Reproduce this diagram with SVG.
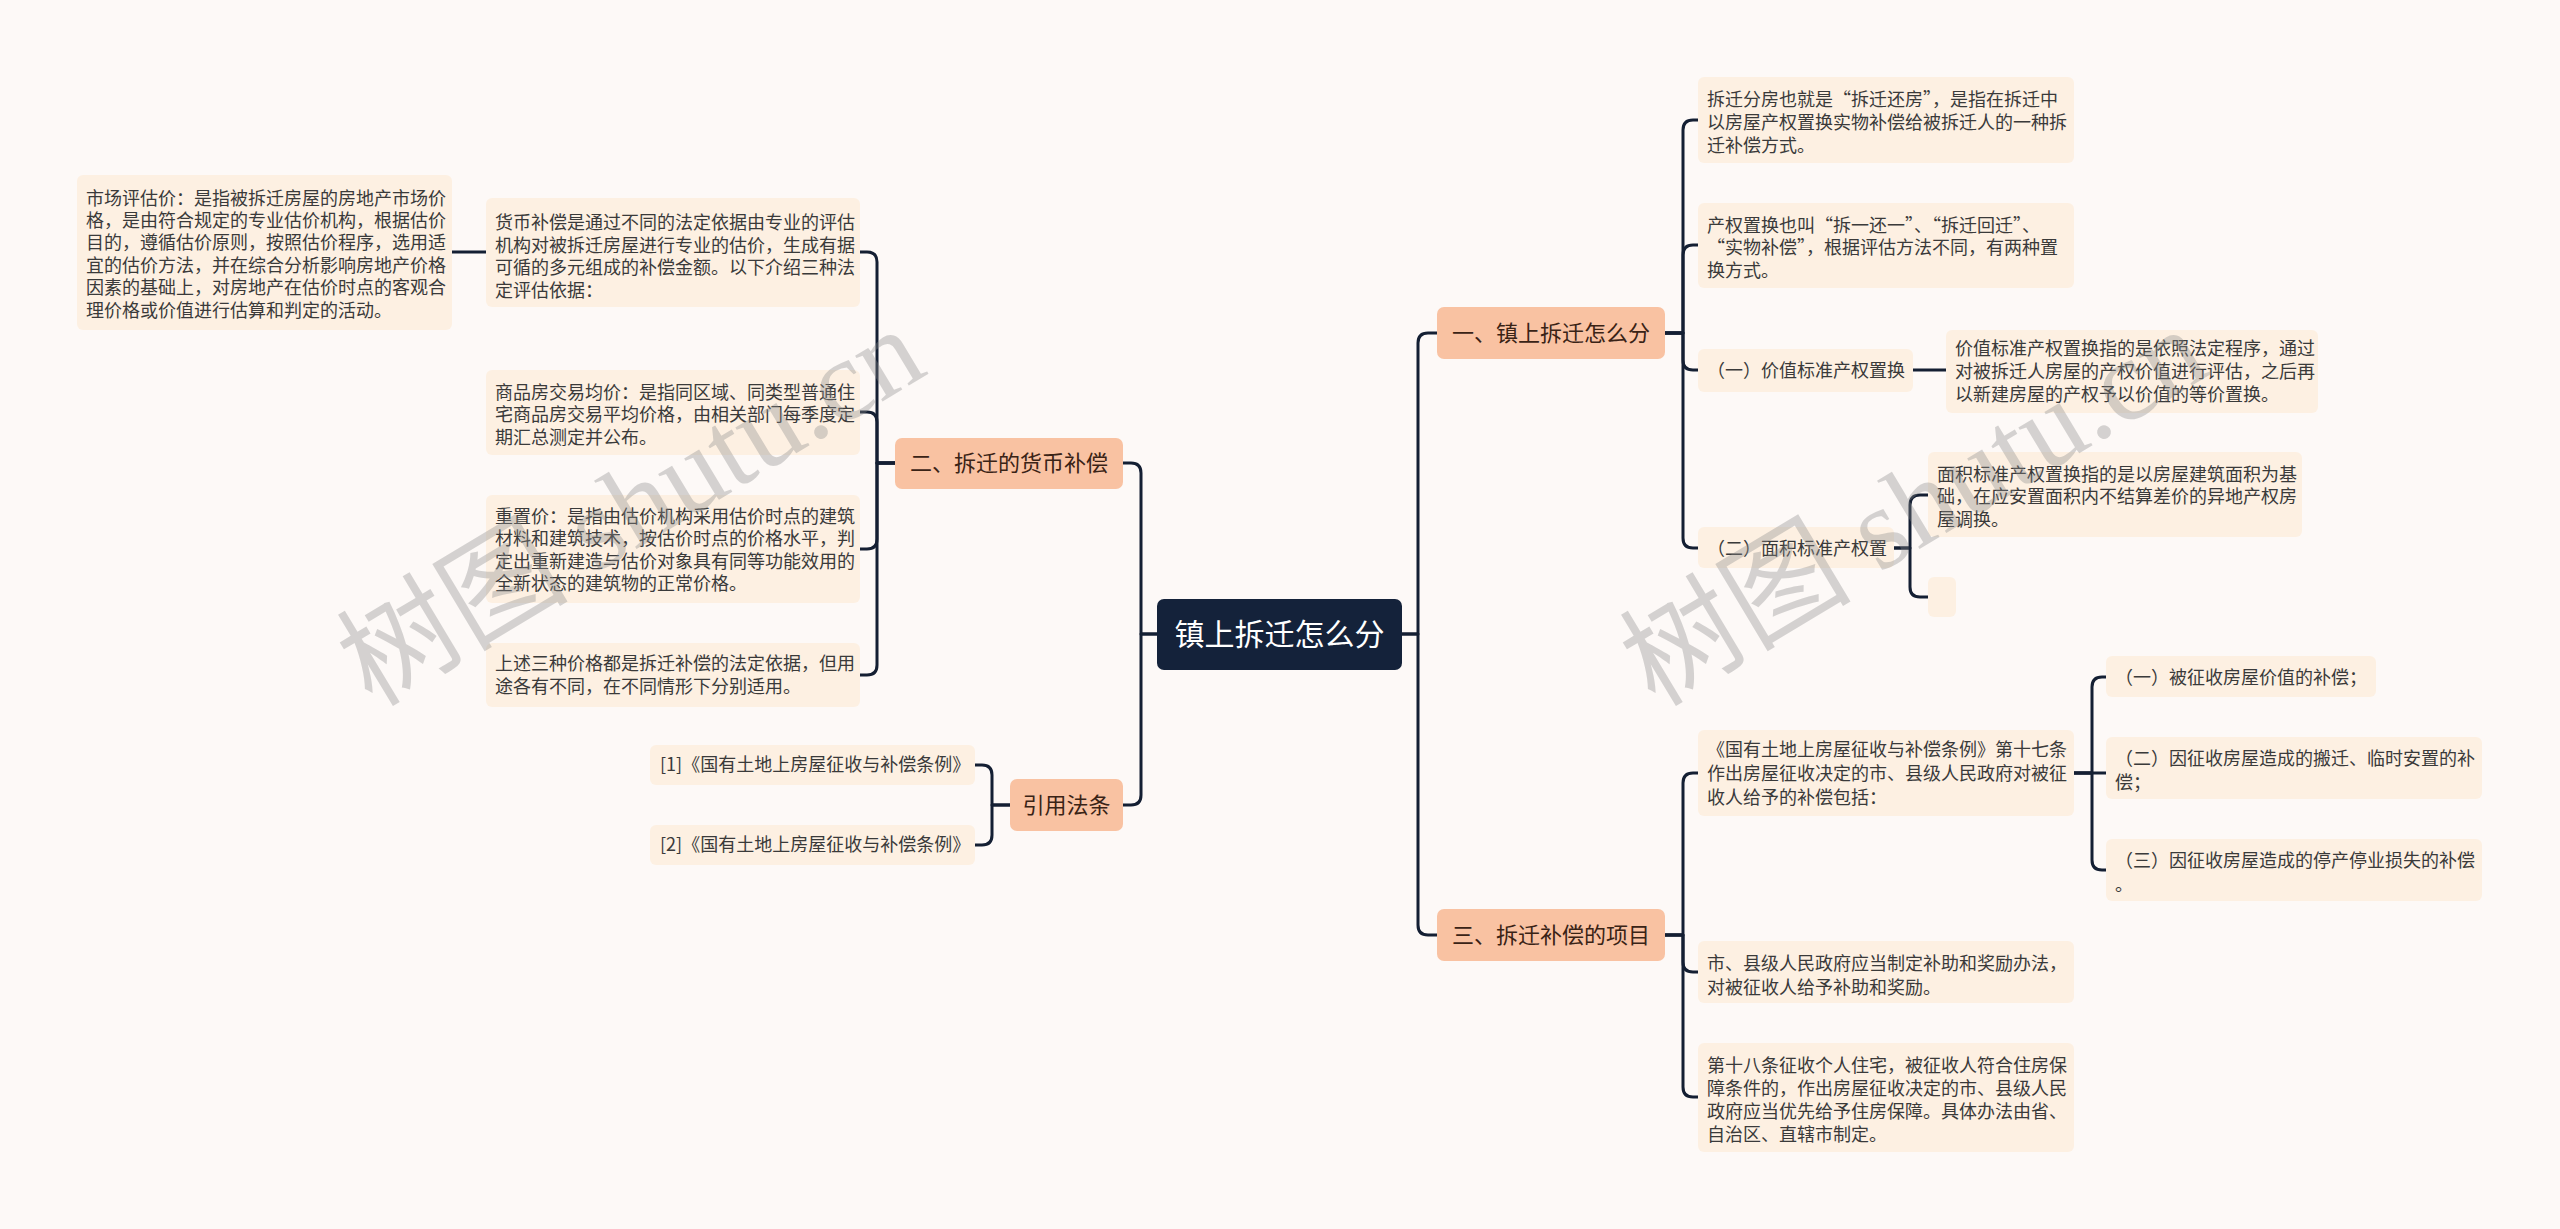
<svg xmlns="http://www.w3.org/2000/svg" width="2560" height="1229" viewBox="0 0 2560 1229">
<style>
.bg{fill:#fdf9f7}
.leaf{fill:#fdf0e2}
.br{fill:#f9c2a2}
.root{fill:#14223a}
.t{font-family:"Noto Sans CJK SC","Noto Sans",sans-serif;font-size:18px;fill:#3a3a3a}
.bt{font-family:"Noto Sans CJK SC","Noto Sans",sans-serif;font-size:22px;fill:#3a2316;text-anchor:middle}
.rt{font-family:"Noto Sans CJK SC","Noto Sans",sans-serif;font-size:30px;fill:#ffffff;text-anchor:middle}
.c{fill:none;stroke:#141f33;stroke-width:3;stroke-linecap:round;stroke-linejoin:round}
.wm{font-family:"Liberation Serif","Noto Sans CJK SC",serif;font-size:116px;fill:#8a8a8a;opacity:0.35}
</style>
<rect class="bg" x="0" y="0" width="2560" height="1229"/>

<g id="connectors">
<path class="c" d="M1157,634 H1141 V473 Q1141,463 1131,463 H1123"/>
<path class="c" d="M1157,634 H1141 V795 Q1141,805 1131,805 H1123"/>
<path class="c" d="M1402,634 H1418 V343 Q1418,333 1428,333 H1437"/>
<path class="c" d="M1402,634 H1418 V925 Q1418,935 1428,935 H1437"/>
<path class="c" d="M895,463 H877 V262 Q877,252 867,252 H860"/>
<path class="c" d="M895,463 H877 V422 Q877,412 867,412 H860"/>
<path class="c" d="M895,463 H877 V539 Q877,549 867,549 H860"/>
<path class="c" d="M895,463 H877 V665 Q877,675 867,675 H860"/>
<path class="c" d="M486,252 H452"/>
<path class="c" d="M1010,805 H992 V775 Q992,765 982,765 H975"/>
<path class="c" d="M1010,805 H992 V835 Q992,845 982,845 H975"/>
<path class="c" d="M1665,333 H1683 V130 Q1683,120 1693,120 H1698"/>
<path class="c" d="M1665,333 H1683 V255 Q1683,245 1693,245 H1698"/>
<path class="c" d="M1665,333 H1683 V360 Q1683,370 1693,370 H1698"/>
<path class="c" d="M1665,333 H1683 V538 Q1683,548 1693,548 H1698"/>
<path class="c" d="M1913,370 H1946"/>
<path class="c" d="M1894,548 H1910 V505 Q1910,495 1920,495 H1928"/>
<path class="c" d="M1894,548 H1910 V587 Q1910,597 1920,597 H1928"/>
<path class="c" d="M1665,935 H1683 V783 Q1683,773 1693,773 H1698"/>
<path class="c" d="M1665,935 H1683 V962 Q1683,972 1693,972 H1698"/>
<path class="c" d="M1665,935 H1683 V1087 Q1683,1097 1693,1097 H1698"/>
<path class="c" d="M2074,773 H2092 V687 Q2092,677 2102,677 H2106"/>
<path class="c" d="M2074,773 H2106"/>
<path class="c" d="M2074,773 H2092 V860 Q2092,870 2102,870 H2106"/>
</g>

<g id="root">
<rect class="root" x="1157" y="599" width="245" height="71" rx="7"/>
<text class="rt" x="1279.5" y="645">镇上拆迁怎么分</text>
</g>

<g id="b1">
<rect class="br" x="1437" y="307" width="228" height="52" rx="7"/>
<text class="bt" x="1551" y="341">一、镇上拆迁怎么分</text>
</g>
<g id="b2">
<rect class="br" x="895" y="438" width="228" height="51" rx="7"/>
<text class="bt" x="1009" y="471">二、拆迁的货币补偿</text>
</g>
<g id="b3">
<rect class="br" x="1437" y="909" width="228" height="52" rx="7"/>
<text class="bt" x="1551" y="943">三、拆迁补偿的项目</text>
</g>
<g id="b4">
<rect class="br" x="1010" y="779" width="113" height="52" rx="7"/>
<text class="bt" x="1066.5" y="813">引用法条</text>
</g>

<g id="n-market">
<rect class="leaf" x="77" y="175" width="375" height="155" rx="6"/>
<text class="t" x="86"><tspan x="86" y="205">市场评估价：是指被拆迁房屋的房地产市场价</tspan><tspan x="86" y="227">格，是由符合规定的专业估价机构，根据估价</tspan><tspan x="86" y="249">目的，遵循估价原则，按照估价程序，选用适</tspan><tspan x="86" y="272">宜的估价方法，并在综合分析影响房地产价格</tspan><tspan x="86" y="294">因素的基础上，对房地产在估价时点的客观合</tspan><tspan x="86" y="317">理价格或价值进行估算和判定的活动。</tspan></text>
</g>
<g id="n-money">
<rect class="leaf" x="486" y="198" width="374" height="109" rx="6"/>
<text class="t"><tspan x="495" y="229">货币补偿是通过不同的法定依据由专业的评估</tspan><tspan x="495" y="252">机构对被拆迁房屋进行专业的估价，生成有据</tspan><tspan x="495" y="274">可循的多元组成的补偿金额。以下介绍三种法</tspan><tspan x="495" y="297">定评估依据：</tspan></text>
</g>
<g id="n-avg">
<rect class="leaf" x="486" y="370" width="374" height="85" rx="6"/>
<text class="t"><tspan x="495" y="399">商品房交易均价：是指同区域、同类型普通住</tspan><tspan x="495" y="421">宅商品房交易平均价格，由相关部门每季度定</tspan><tspan x="495" y="444">期汇总测定并公布。</tspan></text>
</g>
<g id="n-reset">
<rect class="leaf" x="486" y="495" width="374" height="108" rx="6"/>
<text class="t"><tspan x="495" y="523">重置价：是指由估价机构采用估价时点的建筑</tspan><tspan x="495" y="545">材料和建筑技术，按估价时点的价格水平，判</tspan><tspan x="495" y="568">定出重新建造与估价对象具有同等功能效用的</tspan><tspan x="495" y="590">全新状态的建筑物的正常价格。</tspan></text>
</g>
<g id="n-three">
<rect class="leaf" x="486" y="643" width="374" height="64" rx="6"/>
<text class="t"><tspan x="495" y="670">上述三种价格都是拆迁补偿的法定依据，但用</tspan><tspan x="495" y="693">途各有不同，在不同情形下分别适用。</tspan></text>
</g>
<g id="n-ref1">
<rect class="leaf" x="650" y="745" width="325" height="40" rx="6"/>
<text class="t" x="660" y="771">[1]《国有土地上房屋征收与补偿条例》</text>
</g>
<g id="n-ref2">
<rect class="leaf" x="650" y="825" width="325" height="40" rx="6"/>
<text class="t" x="660" y="851">[2]《国有土地上房屋征收与补偿条例》</text>
</g>

<g id="n-fenfang">
<rect class="leaf" x="1698" y="77" width="376" height="86" rx="6"/>
<text class="t"><tspan x="1707" y="106">拆迁分房也就是“拆迁还房”，是指在拆迁中</tspan><tspan x="1707" y="129">以房屋产权置换实物补偿给被拆迁人的一种拆</tspan><tspan x="1707" y="152">迁补偿方式。</tspan></text>
</g>
<g id="n-chanquan">
<rect class="leaf" x="1698" y="203" width="376" height="85" rx="6"/>
<text class="t"><tspan x="1707" y="232">产权置换也叫“拆一还一”、“拆迁回迁”、</tspan><tspan x="1707" y="254">“实物补偿”，根据评估方法不同，有两种置</tspan><tspan x="1707" y="277">换方式。</tspan></text>
</g>
<g id="n-jiazhi">
<rect class="leaf" x="1698" y="349" width="215" height="43" rx="6"/>
<text class="t" x="1707" y="377">（一）价值标准产权置换</text>
</g>
<g id="n-jiazhi-d">
<rect class="leaf" x="1946" y="330" width="372" height="83" rx="6"/>
<text class="t"><tspan x="1955" y="355">价值标准产权置换指的是依照法定程序，通过</tspan><tspan x="1955" y="378">对被拆迁人房屋的产权价值进行评估，之后再</tspan><tspan x="1955" y="401">以新建房屋的产权予以价值的等价置换。</tspan></text>
</g>
<g id="n-mianji">
<rect class="leaf" x="1698" y="527" width="196" height="41" rx="6"/>
<text class="t" x="1707" y="555">（二）面积标准产权置</text>
</g>
<g id="n-mianji-d">
<rect class="leaf" x="1928" y="452" width="374" height="85" rx="6"/>
<text class="t"><tspan x="1937" y="481">面积标准产权置换指的是以房屋建筑面积为基</tspan><tspan x="1937" y="503">础，在应安置面积内不结算差价的异地产权房</tspan><tspan x="1937" y="526">屋调换。</tspan></text>
</g>
<g id="n-empty">
<rect class="leaf" x="1928" y="577" width="28" height="40" rx="6"/>
</g>

<g id="n-art17">
<rect class="leaf" x="1698" y="730" width="376" height="86" rx="6"/>
<text class="t"><tspan x="1707" y="756">《国有土地上房屋征收与补偿条例》第十七条</tspan><tspan x="1707" y="780">作出房屋征收决定的市、县级人民政府对被征</tspan><tspan x="1707" y="804">收人给予的补偿包括：</tspan></text>
</g>
<g id="n-c1">
<rect class="leaf" x="2106" y="656" width="270" height="41" rx="6"/>
<text class="t" x="2115" y="684">（一）被征收房屋价值的补偿；</text>
</g>
<g id="n-c2">
<rect class="leaf" x="2106" y="737" width="376" height="62" rx="6"/>
<text class="t"><tspan x="2115" y="765">（二）因征收房屋造成的搬迁、临时安置的补</tspan><tspan x="2115" y="789">偿；</tspan></text>
</g>
<g id="n-c3">
<rect class="leaf" x="2106" y="839" width="376" height="62" rx="6"/>
<text class="t"><tspan x="2115" y="867">（三）因征收房屋造成的停产停业损失的补偿</tspan><tspan x="2115" y="891">。</tspan></text>
</g>
<g id="n-subsidy">
<rect class="leaf" x="1698" y="941" width="376" height="62" rx="6"/>
<text class="t"><tspan x="1707" y="970">市、县级人民政府应当制定补助和奖励办法，</tspan><tspan x="1707" y="994">对被征收人给予补助和奖励。</tspan></text>
</g>
<g id="n-art18">
<rect class="leaf" x="1698" y="1043" width="376" height="109" rx="6"/>
<text class="t"><tspan x="1707" y="1072">第十八条征收个人住宅，被征收人符合住房保</tspan><tspan x="1707" y="1095">障条件的，作出房屋征收决定的市、县级人民</tspan><tspan x="1707" y="1118">政府应当优先给予住房保障。具体办法由省、</tspan><tspan x="1707" y="1141">自治区、直辖市制定。</tspan></text>
</g>

<g id="watermarks">
<text class="wm" transform="translate(372,708) rotate(-31)">树图 shutu.cn</text>
<text class="wm" transform="translate(1655,708) rotate(-31)">树图 shutu.cn</text>
</g>
</svg>
